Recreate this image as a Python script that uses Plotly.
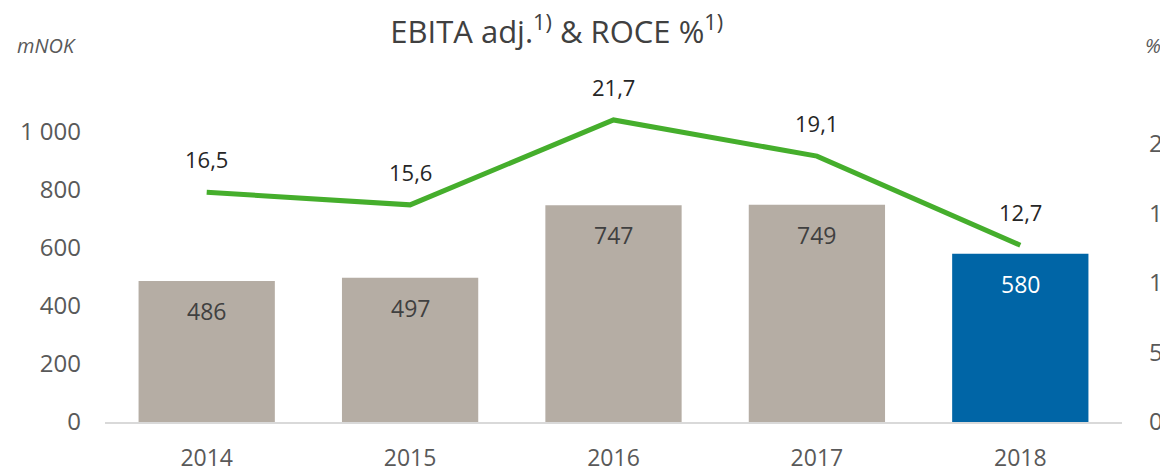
import plotly.graph_objects as go

years = ["2014", "2015", "2016", "2017", "2018"]
ebita = [486, 497, 747, 749, 580]
roce = [16.5, 15.6, 21.7, 19.1, 12.7]
bar_colors = ["#b5ada4", "#b5ada4", "#b5ada4", "#b5ada4", "#0065a6"]
bar_text_colors = ["#404040", "#404040", "#404040", "#404040", "#ffffff"]
left_ticks = [0, 200, 400, 600, 800, 1000]
left_tick_text = ["0", "200", "400", "600", "800", "1 000"]
right_ticks = [0, 5, 10, 15, 20]

def fmt(v):
    return f"{v:.1f}".replace(".", ",")

FONT = "Open Sans"
fig = go.Figure()
fig.add_trace(go.Bar(x=years, y=ebita, marker=dict(color=bar_colors, line=dict(width=0)),
                     yaxis="y", showlegend=False, hoverinfo="skip"))
fig.add_trace(go.Scatter(x=years, y=roce, mode="lines", yaxis="y2",
                         line=dict(color="#45ae2c", width=5), showlegend=False, hoverinfo="skip"))

ann = []
for i, (v, c) in enumerate(zip(ebita, bar_text_colors)):
    ann.append(dict(x=i, y=v, xref="x", yref="y", text=str(v), showarrow=False,
                    yshift=-30, font=dict(family=FONT, size=23, color=c)))
for i, v in enumerate(roce):
    ann.append(dict(x=i, y=v, xref="x", yref="y2", text=fmt(v), showarrow=False,
                    yshift=33, font=dict(family=FONT, size=22, color="#262626")))
ann.append(dict(x=-0.0885, y=1.083, xref="paper", yref="paper", xanchor="left", yanchor="middle",
                text="<i>mNOK</i>", showarrow=False, font=dict(family=FONT, size=20, color="#595959")))
ann.append(dict(x=1.021, y=1.083, xref="paper", yref="paper", xanchor="left", yanchor="middle",
                text="<i>%</i>", showarrow=False, font=dict(family=FONT, size=20, color="#595959")))

fig.update_layout(
    width=1160, height=464,
    margin=dict(l=97, r=46, t=66, b=50),
    paper_bgcolor="white", plot_bgcolor="white",
    bargap=0.33,
    title=dict(text="EBITA adj.<sup>1)</sup> & ROCE %<sup>1)</sup>", x=0.473, xanchor="center",
               y=0.948, yanchor="middle", font=dict(family=FONT, size=31, color="#404040")),
    xaxis=dict(type="category", range=[-0.5, len(years) - 0.5], showgrid=False, showline=True,
               linecolor="#d9d9d9", linewidth=2,
               ticks="", ticklabelstandoff=14, tickfont=dict(family=FONT, size=23, color="#595959"),
               automargin=False),
    yaxis=dict(range=[0, 1200], tickvals=left_ticks, ticktext=left_tick_text, showgrid=False,
               zeroline=False, showline=False, ticks="", ticklabelstandoff=23,
               tickfont=dict(family=FONT, size=24, color="#595959"), automargin=False),
    yaxis2=dict(range=[0, 25], tickvals=right_ticks, overlaying="y", side="right", showgrid=False,
                zeroline=False, showline=False, ticks="", ticklabelstandoff=26,
                tickfont=dict(family=FONT, size=24, color="#595959"), automargin=False),
    annotations=ann,
)
fig.write_html("out.html")
